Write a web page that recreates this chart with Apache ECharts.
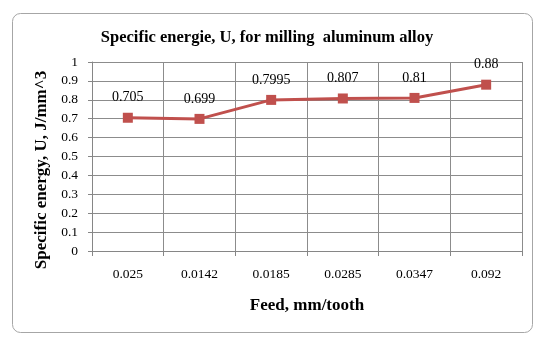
<!DOCTYPE html>
<html><head><meta charset="utf-8">
<script src="https://cdn.jsdelivr.net/npm/echarts@6/dist/echarts.min.js"></script>
<style>html,body{margin:0;padding:0;background:#fff}#c{width:539px;height:338px}</style>
</head><body><div id="c"></div>
<script>
const categories = ['0.025','0.0142','0.0185','0.0285','0.0347','0.092'];
const energyValues = [0.705, 0.699, 0.7995, 0.807, 0.81, 0.88];
const valueLabels = ['0.705','0.699','0.7995','0.807','0.81','0.88'];
const yTicks = [0,0.1,0.2,0.3,0.4,0.5,0.6,0.7,0.8,0.9,1];

const serif = '"Liberation Serif","Times New Roman",serif';
const chart = echarts.init(document.getElementById('c'));
chart.setOption({
  backgroundColor:'#fff',
  animation:false,
  title:{text:'Specific energie, U, for milling  aluminum alloy',left:262,top:24,textAlign:'center',
    textStyle:{fontFamily:serif,fontWeight:'bold',fontSize:16.5,color:'#000'}},
  grid:{left:92,right:17,top:62,bottom:87},
  graphic:[
    {type:'rect',shape:{x:12.5,y:13.5,width:520,height:319,r:8},
      style:{fill:'none',stroke:'#a6a6a6',lineWidth:1},z:-10},
    {type:'text',x:42,y:170,rotation:Math.PI/2,
      style:{text:'Specific energy, U, J/mm^3',font:'bold 17px '+serif,fill:'#000',
        textAlign:'center',textVerticalAlign:'middle'}}
  ],
  xAxis:{type:'category',data:categories,boundaryGap:true,
    axisLine:{lineStyle:{color:'#868686'}},
    axisTick:{show:true,length:5,lineStyle:{color:'#868686'}},
    splitLine:{show:true,lineStyle:{color:'#8c8c8c',width:1}},
    axisLabel:{fontFamily:serif,fontSize:13.5,color:'#000',margin:16},
    name:'Feed, mm/tooth',nameLocation:'middle',nameGap:46,
    nameTextStyle:{fontFamily:serif,fontWeight:'bold',fontSize:17,color:'#000'}},
  yAxis:{type:'value',min:0,max:1,interval:0.1,
    axisLine:{show:true,lineStyle:{color:'#868686'}},
    axisTick:{show:true,length:4,lineStyle:{color:'#868686'}},
    splitLine:{show:true,lineStyle:{color:'#8c8c8c',width:1}},
    axisLabel:{fontFamily:serif,fontSize:13.5,color:'#000',margin:14,
      formatter:v=>{const t=yTicks.find(x=>Math.abs(x-v)<1e-9);return t===undefined?'':String(t);}}},
  series:[{type:'line',data:energyValues,symbol:'rect',symbolSize:10,
    lineStyle:{color:'#C0504D',width:3},
    itemStyle:{color:'#C0504D'},
    label:{show:true,position:'top',distance:8,fontFamily:serif,fontSize:14,color:'#000',
      formatter:p=>valueLabels[p.dataIndex]}}]
});
</script></body></html>
